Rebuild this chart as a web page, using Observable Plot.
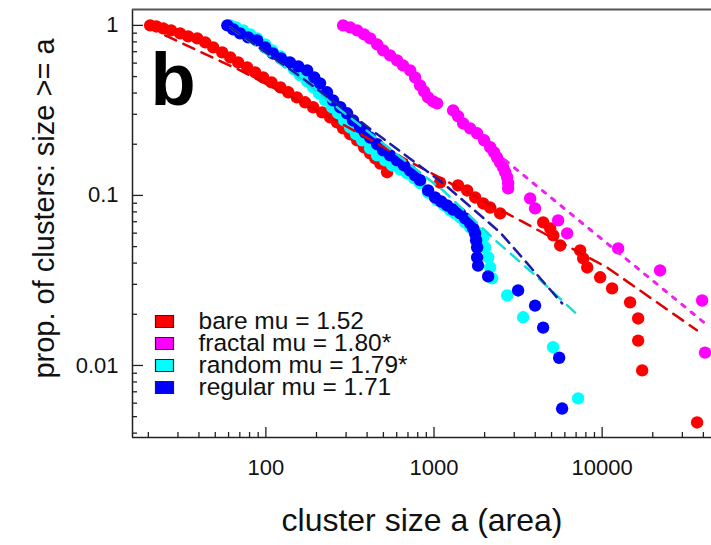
<!DOCTYPE html>
<html>
<head>
<meta charset="utf-8">
<script src="https://cdn.jsdelivr.net/npm/d3@7"></script>
<script src="https://cdn.jsdelivr.net/npm/@observablehq/plot@0.6"></script>
<style>
  html, body { margin: 0; padding: 0; background: #fff; }
  #chart svg { display: block; }
</style>
</head>
<body>
<div id="chart"></div>
<script>
// ---- data ----
const seriesNames = ["bare", "fractal", "random", "regular"];
const seriesLabels = ["bare mu = 1.52", "fractal mu = 1.80*", "random mu = 1.79*", "regular mu = 1.71"];
const seriesColors = ["#ff0000", "#ff00ff", "#00ffff", "#0000ff"];

const bareX = [20.5,22.3,24.5,27.3,30.9,34.5,39.1,43.6,48.6,55.0,61.4,68.4,77.4,86.4,96.4,108,122,136,153,171,191,216,241,265,288,317,349,384,417,447,479,526,
  1086,1390,1574,1757,1960,2158,2473,4460,4910,5120,5630,7400,7710,8150,9730,11460,14660,16370,16370,17300,36700];
const bareY = [1,0.986,0.96,0.935,0.897,0.862,0.839,0.794,0.742,0.694,0.648,0.606,0.566,0.529,0.494,0.462,0.432,0.404,0.377,0.353,0.33,0.308,0.288,0.269,0.248,0.229,0.211,0.192,0.177,0.165,0.154,0.137,
  0.119,0.1146,0.107,0.0973,0.0897,0.0849,0.0784,0.0694,0.064,0.0582,0.0508,0.0475,0.0426,0.0377,0.033,0.0284,0.0235,0.0189,0.014,0.00935,0.00462];

const fractalX = [288,317,349,384,417,459,498,548,603,654,721,772,826,873,922,988,1043,1299,1391,1490,1640,1805,1987,2158,2277,2372,2473,2576,2650,2723,2761,2761,3730,3990,5470,6190,12450,22100,39300,40900];
const fractalY = [1,0.973,0.935,0.885,0.839,0.773,0.713,0.666,0.623,0.582,0.544,0.494,0.444,0.409,0.377,0.357,0.348,0.316,0.292,0.265,0.248,0.232,0.211,0.192,0.179,0.167,0.156,0.146,0.137,0.128,0.118,0.11,0.096,0.0839,0.0713,0.0598,0.0488,0.0362,0.0241,0.0119];

const randomX = [61.4,66.5,73.3,80.7,88.7,99.1,109,122,134,147,160,176,191,207,225,248,269,292,317,344,374,417,459,512,564,629,693,763,826,922,1043,1148,1248,1336,1430,1531,1640,1805,1960,2014,2099,2158,2218,2723,3388,5105,7194];
const randomY = [1,0.973,0.935,0.885,0.839,0.773,0.713,0.657,0.606,0.551,0.508,0.469,0.432,0.398,0.362,0.33,0.304,0.276,0.251,0.229,0.211,0.189,0.172,0.161,0.15,0.142,0.135,0.126,0.118,0.104,0.0935,0.0873,0.0816,0.0784,0.0742,0.0694,0.0648,0.0606,0.0566,0.0494,0.0432,0.0377,0.0325,0.0258,0.0192,0.0128,0.0064];

const regularX = [59,64,70.3,78.5,88.7,99.1,110,123,139,156,176,194,210,231,251,277,304,330,363,389,417,459,498,548,603,663,721,772,826,922,1014,1102,1196,1299,1430,1531,1640,1710,1755,1780,1805,1805,1828,2099,3163,3990,4456,5550,5780];
const regularY = [1,0.947,0.897,0.85,0.816,0.742,0.684,0.64,0.606,0.574,0.544,0.494,0.456,0.404,0.362,0.33,0.304,0.276,0.251,0.234,0.219,0.2,0.184,0.172,0.161,0.15,0.14,0.131,0.123,0.107,0.0973,0.0921,0.0873,0.0826,0.0784,0.0733,0.0685,0.064,0.0598,0.0545,0.0494,0.0432,0.0387,0.0334,0.0276,0.0225,0.0167,0.0111,0.00558];

// fitted curves (dashed / dotted)
const bareFitX = [25.2, 70.3, 241, 692, 3250, 10700, 36600];
const bareFitY = [0.873, 0.544, 0.288, 0.161, 0.0713, 0.0377, 0.0161];
const fractalFitX = [2650, 40900];
const fractalFitY = [0.161, 0.0177];
const randomFitX = [61.4, 160, 498, 1132, 2250, 3880, 7190];
const randomFitY = [0.973, 0.488, 0.202, 0.107, 0.0558, 0.0348, 0.0197];
const regularFitX = [61.4, 160, 498, 1132, 2473, 5780];
const regularFitY = [0.973, 0.501, 0.216, 0.118, 0.0606, 0.0232];

// axes
const xDomain = [16.1, 44700];
const yDomain = [0.00377, 1.24];
const xTicks = [100, 1000, 10000];
const xMinor = [20,30,40,50,60,70,80,90,200,300,400,500,600,700,800,900,2000,3000,4000,5000,6000,7000,8000,9000,20000,30000,40000];
const yTicks = [1, 0.1, 0.01];
const yMinor = [0.004,0.005,0.006,0.007,0.008,0.009,0.02,0.03,0.04,0.05,0.06,0.07,0.08,0.09,0.2,0.3,0.4,0.5,0.6,0.7,0.8,0.9];
const xTitle = "cluster size a (area)";
const yTitle = "prop. of clusters: size >= a";
const panelLetter = "b";

// ---- build tables ----
const allX = [bareX, fractalX, randomX, regularX];
const allY = [bareY, fractalY, randomY, regularY];
const points = [];
seriesNames.forEach((s, i) => allX[i].forEach((x, j) => points.push({series: s, x, y: allY[i][j]})));
const fitsX = [bareFitX, fractalFitX, randomFitX, regularFitX];
const fitsY = [bareFitY, fractalFitY, randomFitY, regularFitY];
const fits = seriesNames.map((s, i) => fitsX[i].map((x, j) => ({series: s, x, y: fitsY[i][j]})));

const W = 711, H = 545;
const mL = 132, mR = 0, mT = 9, mB = 108;
const plotW = W - mL - mR, plotH = H - mT - mB;

const fitStyles = [
  {stroke: "#e00000", strokeDasharray: "12,8", strokeWidth: 2.5},
  {stroke: "#ee22ee", strokeDasharray: "4,8", strokeWidth: 3},
  {stroke: "#11dddd", strokeDasharray: "11,8", strokeWidth: 2.5},
  {stroke: "#1c1ca8", strokeDasharray: "11,7", strokeWidth: 2.5}
];

const rectSymbol = {
  draw(ctx) {
    ctx.moveTo(-9, -6); ctx.lineTo(9, -6); ctx.lineTo(9, 6); ctx.lineTo(-9, 6); ctx.closePath();
  }
};

const legendRows = [-116, -94, -72, -50];
const legendMarks = [];
seriesNames.forEach((s, i) => {
  legendMarks.push(Plot.dot([s], {frameAnchor: "bottom-left", dx: 32, dy: legendRows[i], symbol: rectSymbol, fill: d => d, stroke: "#222", strokeWidth: 1.2, r: 5}));
  legendMarks.push(Plot.text([seriesLabels[i]], {frameAnchor: "bottom-left", dx: 66, dy: legendRows[i], text: d => d, textAnchor: "start", lineAnchor: "middle", fontSize: 24.5, fill: "#111"}));
});

const chart = Plot.plot({
  width: W, height: H,
  marginLeft: mL, marginRight: mR, marginTop: mT, marginBottom: mB,
  style: {fontFamily: "'Liberation Sans', Arial, sans-serif", background: "#fff", color: "#111"},
  x: {type: "log", domain: xDomain},
  y: {type: "log", domain: yDomain},
  color: {domain: seriesNames, range: seriesColors},
  marks: [
    Plot.dot(points, {x: "x", y: "y", fill: "series", r: 6.2}),
    ...fits.map((f, i) => Plot.line(f, {x: "x", y: "y", ...fitStyles[i]})),
    // frame lines
    Plot.ruleX([xDomain[0]], {stroke: "#222", strokeWidth: 1.5}),
    Plot.ruleY([yDomain[0]], {stroke: "#222", strokeWidth: 1.5}),
    Plot.ruleY([yDomain[1]], {stroke: "#555", strokeWidth: 2}),
    // inward ticks
    Plot.tickX(xTicks, {x: d => d, insetTop: plotH - 10, stroke: "#222", strokeWidth: 1.3}),
    Plot.tickX(xMinor, {x: d => d, insetTop: plotH - 5, stroke: "#222", strokeWidth: 1.3}),
    Plot.tickY(yTicks, {y: d => d, insetRight: plotW - 11, stroke: "#222", strokeWidth: 1.3}),
    Plot.tickY(yMinor, {y: d => d, insetRight: plotW - 5, stroke: "#222", strokeWidth: 1.3}),
    // tick labels
    Plot.axisX({ticks: xTicks, tickSize: 0, tickPadding: 22, tickFormat: d => String(d), fontSize: 22, label: null}),
    Plot.axisY({ticks: yTicks, tickSize: 0, tickPadding: 14, tickFormat: d => String(d), fontSize: 22, label: null}),
    // titles
    Plot.text([xTitle], {frameAnchor: "bottom", dy: 83, text: d => d, fontSize: 32, textAnchor: "middle", lineAnchor: "middle", fill: "#111"}),
    Plot.text([yTitle], {frameAnchor: "left", dx: -88, dy: -15, rotate: -90, text: d => d, fontSize: 29, textAnchor: "middle", lineAnchor: "middle", fill: "#111"}),
    Plot.text([panelLetter], {frameAnchor: "top-left", dx: 18, dy: 95, text: d => d, fontSize: 74, fontWeight: "bold", textAnchor: "start", lineAnchor: "bottom", fill: "#000"}),
    ...legendMarks
  ]
});
document.getElementById("chart").append(chart);
</script>
</body>
</html>
